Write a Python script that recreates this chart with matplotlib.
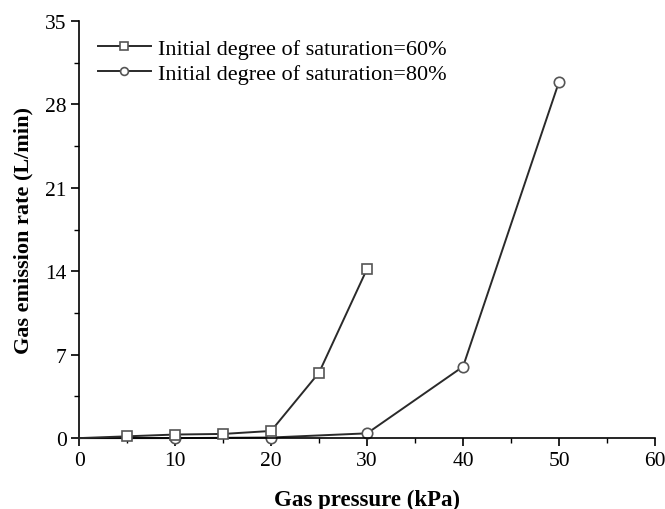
import matplotlib
matplotlib.use("Agg")
import matplotlib.pyplot as plt
from matplotlib.ticker import MultipleLocator

plt.rcParams['font.family'] = ['Liberation Serif', 'DejaVu Serif']

x60 = [0, 5, 10, 15, 20, 25, 30]
y60 = [0, 0.15, 0.3, 0.35, 0.6, 5.5, 14.2]
x80 = [0, 10, 20, 30, 40, 50]
y80 = [0, 0.0, 0.05, 0.4, 6.0, 29.9]
labels = ["Initial degree of saturation=60%", "Initial degree of saturation=80%"]

fig = plt.figure(figsize=(6.65, 5.10), dpi=100)
ax = fig.add_axes([0.119, 0.139, 0.866, 0.818])

ax.plot(x60, y60, color='#2a2a2a', lw=1.4, marker='s', ms=7, mfc='white',
        mec='#555555', mew=1.2, label=labels[0], clip_on=False, zorder=3,
        markevery=list(range(1, len(x60))))
ax.plot(x80, y80, color='#2a2a2a', lw=1.4, marker='o', ms=7.5, mfc='white',
        mec='#555555', mew=1.2, label=labels[1], clip_on=False, zorder=2,
        markevery=list(range(1, len(x80))))

ax.set_xlim(0, 60)
ax.set_ylim(0, 35)
ax.xaxis.set_major_locator(MultipleLocator(10))
ax.xaxis.set_minor_locator(MultipleLocator(5))
ax.yaxis.set_major_locator(MultipleLocator(7))
ax.yaxis.set_minor_locator(MultipleLocator(3.5))
for s in ['top', 'right']:
    ax.spines[s].set_visible(False)
for s in ['left', 'bottom']:
    ax.spines[s].set_linewidth(1.2)
ax.tick_params(which='major', direction='out', length=6, width=1.2, labelsize=15.5, pad=3)
ax.tick_params(which='minor', direction='out', length=3.5, width=1.0)

ax.set_xlabel("Gas pressure (kPa)", fontsize=16.5, fontweight='bold', labelpad=14)
ax.set_ylabel("Gas emission rate (L/min)", fontsize=16, fontweight='bold', labelpad=8)

leg = ax.legend(loc='upper left', bbox_to_anchor=(0.013, 0.985), frameon=False,
                fontsize=16, handlelength=2.4, handletextpad=0.3, labelspacing=0.2,
                borderaxespad=0.1, markerscale=0.75)

fig.savefig("out.png", dpi=100)
